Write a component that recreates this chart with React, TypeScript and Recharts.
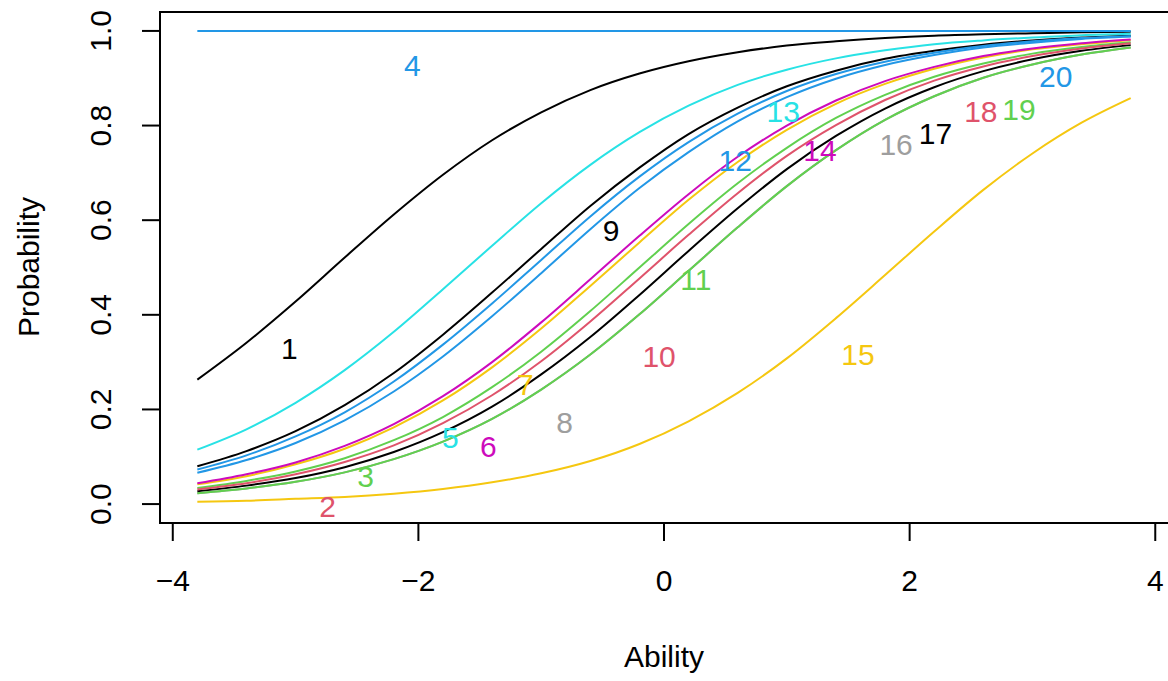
import { ComposedChart, Line, Scatter, XAxis, YAxis, ReferenceArea } from 'recharts';

// Item characteristic curves at fixed ability points
const ability = [-3.8, -3.4, -3.0, -2.6, -2.2, -1.8, -1.4, -1.0, -0.6, -0.2, 0.2, 0.6, 1.0, 1.4, 1.8, 2.2, 2.6, 3.0, 3.4, 3.8];

const item1 = [0.263, 0.341, 0.428, 0.521, 0.612, 0.696, 0.769, 0.828, 0.875, 0.910, 0.936, 0.955, 0.969, 0.978, 0.985, 0.990, 0.993, 0.995, 0.997, 0.998];
const item4 = [1, 1, 1, 1, 1, 1, 1, 1, 1, 1, 1, 1, 1, 1, 1, 1, 1, 1, 1, 1];
const item7 = [0.042, 0.059, 0.084, 0.117, 0.162, 0.219, 0.289, 0.371, 0.461, 0.553, 0.643, 0.723, 0.791, 0.846, 0.888, 0.920, 0.944, 0.961, 0.972, 0.981];
const item9 = [0.080, 0.112, 0.154, 0.209, 0.277, 0.358, 0.447, 0.539, 0.630, 0.711, 0.782, 0.838, 0.883, 0.916, 0.941, 0.958, 0.971, 0.980, 0.986, 0.990];
const item11 = [0.034, 0.049, 0.069, 0.097, 0.135, 0.184, 0.247, 0.322, 0.408, 0.500, 0.592, 0.678, 0.753, 0.816, 0.865, 0.903, 0.931, 0.952, 0.966, 0.976];
const item12 = [0.073, 0.103, 0.143, 0.194, 0.259, 0.337, 0.424, 0.516, 0.608, 0.692, 0.765, 0.825, 0.873, 0.909, 0.935, 0.954, 0.968, 0.978, 0.985, 0.989];
const item13 = [0.115, 0.158, 0.214, 0.283, 0.364, 0.454, 0.546, 0.636, 0.717, 0.786, 0.842, 0.886, 0.918, 0.942, 0.959, 0.972, 0.980, 0.986, 0.991, 0.994];
const item14 = [0.044, 0.063, 0.088, 0.123, 0.169, 0.228, 0.300, 0.384, 0.475, 0.567, 0.655, 0.734, 0.800, 0.853, 0.894, 0.924, 0.947, 0.963, 0.974, 0.982];
const item15 = [0.005, 0.007, 0.011, 0.015, 0.022, 0.032, 0.046, 0.065, 0.091, 0.127, 0.175, 0.235, 0.308, 0.393, 0.484, 0.576, 0.664, 0.741, 0.806, 0.858];
const item16 = [0.023, 0.033, 0.047, 0.067, 0.095, 0.132, 0.180, 0.242, 0.316, 0.401, 0.493, 0.585, 0.672, 0.748, 0.812, 0.862, 0.901, 0.929, 0.950, 0.965];
const item17 = [0.027, 0.039, 0.055, 0.078, 0.110, 0.152, 0.206, 0.274, 0.353, 0.442, 0.535, 0.625, 0.708, 0.778, 0.836, 0.881, 0.915, 0.940, 0.958, 0.970];
const item18 = [0.031, 0.044, 0.063, 0.089, 0.124, 0.171, 0.230, 0.302, 0.386, 0.477, 0.569, 0.657, 0.736, 0.801, 0.854, 0.895, 0.925, 0.947, 0.963, 0.974];
const item19 = [0.023, 0.033, 0.047, 0.067, 0.095, 0.132, 0.180, 0.242, 0.316, 0.401, 0.493, 0.585, 0.672, 0.748, 0.812, 0.862, 0.901, 0.929, 0.950, 0.965];
const item20 = [0.066, 0.093, 0.129, 0.177, 0.238, 0.312, 0.397, 0.488, 0.581, 0.668, 0.744, 0.809, 0.860, 0.899, 0.928, 0.949, 0.965, 0.975, 0.983, 0.988];

// item number labels drawn inside the plot
const labelItems = [1, 2, 3, 4, 5, 6, 7, 8, 9, 10, 11, 12, 13, 14, 15, 16, 17, 18, 19, 20];
const labelX = [-3.05, -2.74, -2.43, -2.05, -1.74, -1.43, -1.13, -0.81, -0.43, -0.04, 0.26, 0.58, 0.97, 1.27, 1.58, 1.89, 2.21, 2.58, 2.89, 3.19];
const labelY = [0.328, -0.006, 0.058, 0.926, 0.14, 0.121, 0.252, 0.172, 0.579, 0.311, 0.474, 0.727, 0.829, 0.748, 0.317, 0.759, 0.784, 0.829, 0.833, 0.903];

const xTicks = [-4, -2, 0, 2, 4];
const yTicks = [0, 0.2, 0.4, 0.6, 0.8, 1];

// R default palette, recycled by item number
const PALETTE = ['#000000', '#DF536B', '#61D04F', '#2297E6', '#28E2E5', '#CD0BBC', '#F5C710', '#9E9E9E'];
const itemColor = (item: number) => PALETTE[(item - 1) % PALETTE.length];

// drawn in item order, later items on top (16 sits under 19)
const curves = [
  { item: 1, values: item1 },
  { item: 4, values: item4 },
  { item: 7, values: item7 },
  { item: 9, values: item9 },
  { item: 11, values: item11 },
  { item: 12, values: item12 },
  { item: 13, values: item13 },
  { item: 14, values: item14 },
  { item: 15, values: item15 },
  { item: 16, values: item16 },
  { item: 17, values: item17 },
  { item: 18, values: item18 },
  { item: 19, values: item19 },
  { item: 20, values: item20 },
];

const rows = ability.map((x, i) => {
  const row: Record<string, number> = { x };
  curves.forEach((c) => {
    row[`i${c.item}`] = c.values[i];
  });
  return row;
});

const labelData = labelItems.map((item, i) => ({ x: labelX[i], y: labelY[i], item }));

const X_DOMAIN: [number, number] = [-4.104, 4.12];
const Y_DOMAIN: [number, number] = [-0.04, 1.04];

const FONT = '"Liberation Sans", Arial, Helvetica, sans-serif';
const FONT_SIZE = 30;

const fmtX = (v: number) => (v < 0 ? `\u2212${Math.abs(v)}` : `${v}`);

function XTick({ x, y, payload }: any) {
  return (
    <text x={x} y={y + 37} textAnchor="middle" dominantBaseline="central" fontSize={FONT_SIZE} fontFamily={FONT} fill="#000">
      {fmtX(payload.value)}
    </text>
  );
}

function YTick({ x, y, payload }: any) {
  const bx = x - 29;
  return (
    <text x={bx} y={y} transform={`rotate(-90, ${bx}, ${y})`} textAnchor="middle" fontSize={FONT_SIZE} fontFamily={FONT} fill="#000">
      {Number(payload.value).toFixed(1)}
    </text>
  );
}

function ItemLabel({ cx, cy, payload }: any) {
  return (
    <text x={cx} y={cy} textAnchor="middle" dominantBaseline="central" fontSize={FONT_SIZE} fontFamily={FONT} fill={itemColor(payload.item)}>
      {payload.item}
    </text>
  );
}

export default function App() {
  return (
    <div style={{ position: 'absolute', left: 0, top: 0, width: 1168, height: 681, overflow: 'hidden', background: '#fff' }}>
      <ComposedChart width={1170} height={681} data={rows} margin={{ top: 12, right: 0, bottom: 0, left: 0 }}>
        <XAxis
          type="number"
          dataKey="x"
          domain={X_DOMAIN}
          ticks={xTicks}
          allowDataOverflow
          axisLine={false}
          tickSize={18}
          tickLine={{ stroke: '#000', strokeWidth: 2 }}
          tick={<XTick />}
          height={158}
        />
        <YAxis
          type="number"
          domain={Y_DOMAIN}
          ticks={yTicks}
          allowDataOverflow
          axisLine={false}
          tickSize={18}
          tickLine={{ stroke: '#000', strokeWidth: 2 }}
          tick={<YTick />}
          width={160}
        />
        {curves.map((c) => (
          <Line
            key={c.item}
            type="monotone"
            dataKey={`i${c.item}`}
            stroke={itemColor(c.item)}
            strokeWidth={2}
            dot={false}
            activeDot={false}
            isAnimationActive={false}
          />
        ))}
        <Scatter data={labelData} dataKey="y" shape={<ItemLabel />} isAnimationActive={false} />
        <ReferenceArea x1={X_DOMAIN[0]} x2={X_DOMAIN[1]} y1={Y_DOMAIN[0]} y2={Y_DOMAIN[1]} fill="none" stroke="#000" strokeWidth={2} />
      </ComposedChart>
      <svg width={1168} height={681} style={{ position: 'absolute', left: 0, top: 0, pointerEvents: 'none' }}>
        <text x={664} y={667} textAnchor="middle" fontSize={FONT_SIZE} fontFamily={FONT} fill="#000">
          Ability
        </text>
        <text x={39} y={267} transform="rotate(-90, 39, 267)" textAnchor="middle" fontSize={FONT_SIZE} fontFamily={FONT} fill="#000">
          Probability
        </text>
      </svg>
    </div>
  );
}
